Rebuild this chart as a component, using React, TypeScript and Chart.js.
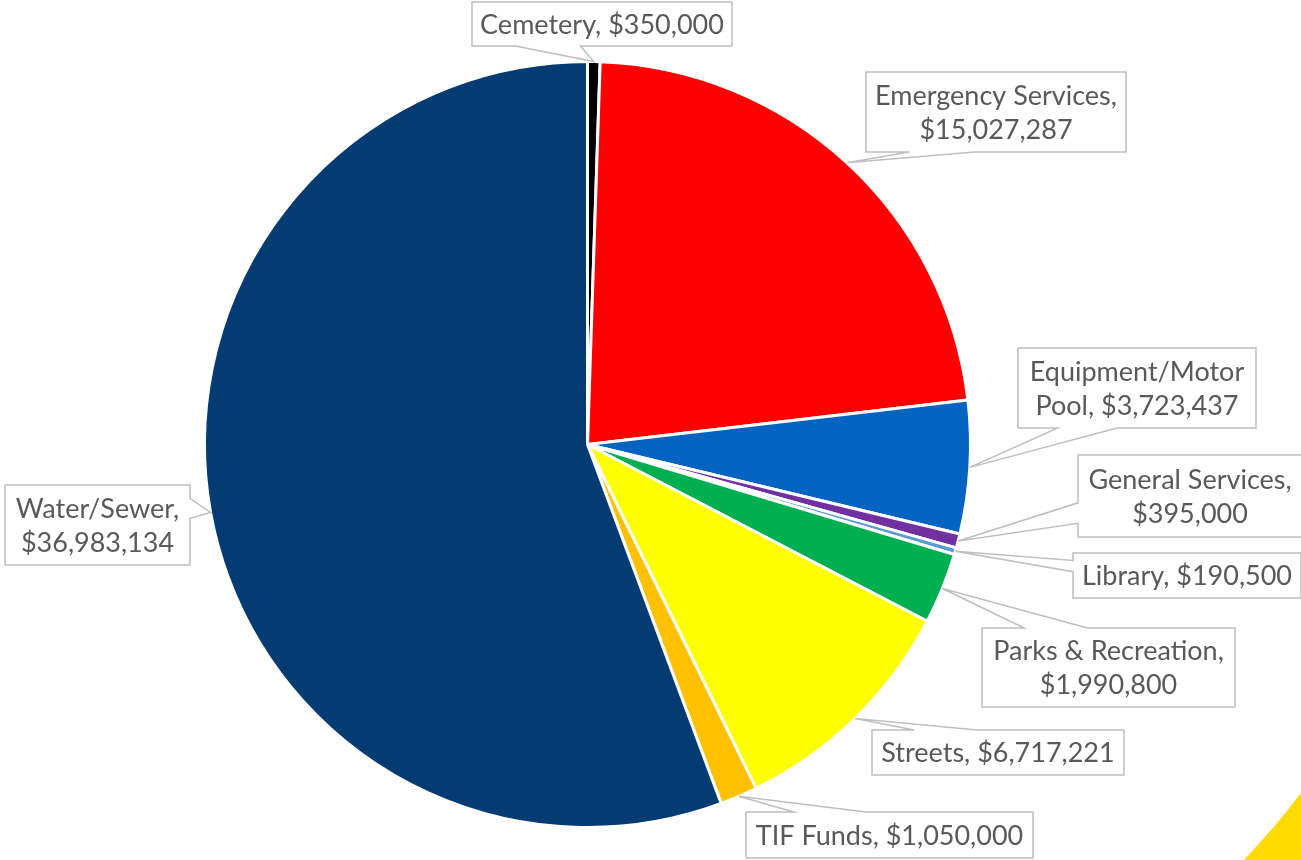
import React, { useEffect, useRef } from "react";
import { Chart, registerables } from "chart.js";

Chart.register(...registerables);

const categories = [
  "Cemetery",
  "Emergency Services",
  "Equipment/Motor Pool",
  "General Services",
  "Library",
  "Parks & Recreation",
  "Streets",
  "TIF Funds",
  "Water/Sewer",
];
const values = [350000, 15027287, 3723437, 395000, 190500, 1990800, 6717221, 1050000, 36983134];
const colors = ["#000000", "#FF0000", "#0563C1", "#7030A0", "#5B9BD5", "#00B050", "#FFFF00", "#FFC000", "#043B72"];

// words on the first line of each label (0 = single line)
const firstLineWords = [0, 2, 1, 2, 0, 3, 0, 0, 1];
// callout boxes: x, y, w, h
const boxes = [
  [472, 2, 260, 44],
  [866, 72, 260, 80],
  [1018, 348, 238, 80],
  [1078, 455, 224, 82],
  [1073, 553, 228, 45],
  [982, 628, 253, 79],
  [872, 730, 252, 45],
  [746, 812, 287, 46],
  [5, 485, 185, 80],
];

const FONT = "27px Lato, 'Noto Sans', sans-serif";

function labelLines(i: number): string[] {
  const text = `${categories[i]}, $${values[i].toLocaleString("en-US")}`;
  const n = firstLineWords[i];
  if (!n) return [text];
  const words = text.split(" ");
  return [words.slice(0, n).join(" "), words.slice(n).join(" ")];
}

const calloutPlugin = {
  id: "callouts",
  afterDraw(chart: any) {
    const ctx = chart.ctx as CanvasRenderingContext2D;
    // decorative corner shape
    ctx.save();
    ctx.fillStyle = "#FFDA00";
    ctx.beginPath();
    ctx.moveTo(1244, 860);
    ctx.quadraticCurveTo(1276, 826, 1301, 793);
    ctx.lineTo(1301, 860);
    ctx.closePath();
    ctx.fill();
    ctx.restore();

    const meta = chart.getDatasetMeta(0);
    meta.data.forEach((arc: any, i: number) => {
      const p = arc.getProps(["x", "y", "startAngle", "endAngle", "outerRadius"], true);
      const mid = (p.startAngle + p.endAngle) / 2;
      const tx = p.x + Math.cos(mid) * p.outerRadius;
      const ty = p.y + Math.sin(mid) * p.outerRadius;
      const [bx, by, w, h] = boxes[i];
      const hc = bx + w / 2;
      const vc = by + h / 2;
      const dx = tx - hc;
      const dy = ty - vc;
      const dq = (dx * h) / w;
      const side = Math.abs(dy) > Math.abs(dq) ? (dy > 0 ? "bottom" : "top") : dx > 0 ? "right" : "left";
      const xg1 = dx > 0 ? 7 : 2;
      const xg2 = dx > 0 ? 10 : 5;
      const yg1 = dy > 0 ? 7 : 2;
      const yg2 = dy > 0 ? 10 : 5;
      const x1 = bx + (w * xg1) / 12;
      const x2 = bx + (w * xg2) / 12;
      const y1 = by + (h * yg1) / 12;
      const y2 = by + (h * yg2) / 12;

      ctx.save();
      ctx.beginPath();
      ctx.moveTo(bx, by);
      if (side === "top") {
        ctx.lineTo(x1, by);
        ctx.lineTo(tx, ty);
        ctx.lineTo(x2, by);
      }
      ctx.lineTo(bx + w, by);
      if (side === "right") {
        ctx.lineTo(bx + w, y1);
        ctx.lineTo(tx, ty);
        ctx.lineTo(bx + w, y2);
      }
      ctx.lineTo(bx + w, by + h);
      if (side === "bottom") {
        ctx.lineTo(x2, by + h);
        ctx.lineTo(tx, ty);
        ctx.lineTo(x1, by + h);
      }
      ctx.lineTo(bx, by + h);
      if (side === "left") {
        ctx.lineTo(bx, y2);
        ctx.lineTo(tx, ty);
        ctx.lineTo(bx, y1);
      }
      ctx.closePath();
      ctx.fillStyle = "#FFFFFF";
      ctx.fill();
      ctx.strokeStyle = "#BFBFBF";
      ctx.lineWidth = 1.5;
      ctx.stroke();

      ctx.fillStyle = "#595959";
      ctx.font = FONT;
      ctx.textAlign = "center";
      ctx.textBaseline = "middle";
      const lines = labelLines(i);
      const lh = 34;
      lines.forEach((ln, k) => {
        const yy = vc + (k - (lines.length - 1) / 2) * lh + 1;
        ctx.fillText(ln, hc, yy);
      });
      ctx.restore();
    });
  },
};

export default function App() {
  const ref = useRef<HTMLCanvasElement>(null);
  useEffect(() => {
    document.body.style.margin = "0";
    const chart = new Chart(ref.current!, {
      type: "pie",
      data: {
        labels: categories,
        datasets: [
          {
            data: values,
            backgroundColor: colors,
            borderColor: "#FFFFFF",
            borderWidth: 3,
          },
        ],
      },
      options: {
        responsive: false,
        animation: false,
        devicePixelRatio: 1,
        layout: { padding: { left: 203, right: 329, top: 60, bottom: 31 } },
        plugins: { legend: { display: false }, tooltip: { enabled: false } },
      },
      plugins: [calloutPlugin],
    });
    return () => chart.destroy();
  }, []);
  return (
    <div style={{ position: "absolute", left: 0, top: 0, width: 1301, height: 860, background: "#FFFFFF" }}>
      <canvas ref={ref} width={1301} height={860} />
    </div>
  );
}
